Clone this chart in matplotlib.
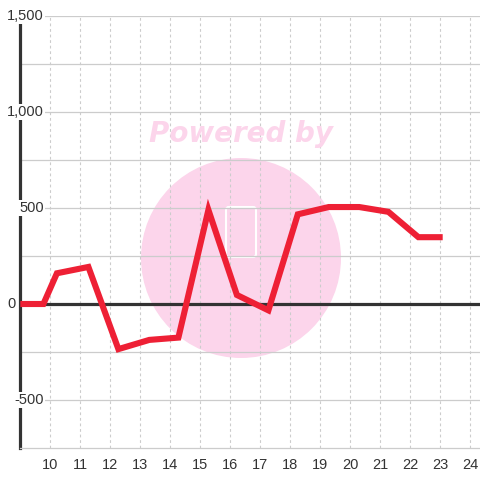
import matplotlib
matplotlib.use('Agg')
from matplotlib import pyplot as plt
from matplotlib.patches import Circle, FancyBboxPatch
from matplotlib.transforms import blended_transform_factory

plt.rcParams['font.family'] = ['Liberation Sans', 'DejaVu Sans']

# data
x_vals = [9, 9.77, 10.22, 11.27, 12.27, 13.3, 14.27, 15.27, 16.22,
          17.27, 18.25, 19.28, 20.3, 21.27, 22.27, 23.08]
y_vals = [0, 0, 160, 193, -235, -187, -175, 490, 47,
          -33, 467, 505, 505, 480, 348, 348]
x_ticks = list(range(10, 25))
y_ticks = [-500, 0, 500, 1000, 1500]
y_labels = ['-500', '0', '500', '1,000', '1,500']

fig = plt.figure(figsize=(4.8, 4.8), dpi=100)
ax = fig.add_axes([20.3 / 480, 1 - 448 / 480, 1 - 20.3 / 480, 432 / 480])
ax.set_xlim(9, 9 + (480 - 20.3) / 30)
ax.set_ylim(-750, 1500)

# watermark
ax.add_patch(Circle((241 / 480, 1 - 258 / 480), 100 / 480, transform=fig.transFigure,
                    facecolor='#fcd5eb', edgecolor='none', zorder=0.5))
ax.add_patch(FancyBboxPatch((226 / 480, 1 - 257 / 480), 30 / 480, 50 / 480,
                            boxstyle='round,pad=0,rounding_size=0.006',
                            transform=fig.transFigure, facecolor='none',
                            edgecolor='white', lw=1.5, zorder=0.6))
fig.text(241 / 480, 1 - 134 / 480, 'Powered by', color='#fcd5eb', fontsize=20,
         fontweight='bold', fontstyle='italic', ha='center', va='center',
         family=['DejaVu Sans'], zorder=0.5)

# grid
for v in range(-500, 1501, 250):
    ax.axhline(v, color='#cccccc', lw=0.9, zorder=1)
for v in x_ticks:
    ax.axvline(v, color='#cccccc', lw=0.8, ls=(0, (2.5, 2.5)), zorder=1)

ax.axhline(0, color='#333333', lw=2.3, zorder=2)
ax.plot([9, 9], [-750, 1460], color='#333333', lw=2.3, zorder=2, clip_on=False)

ax.plot(x_vals, y_vals, color='#ee2035', lw=4.4, solid_joinstyle='miter',
        solid_capstyle='butt', zorder=3)

for s in ['top', 'right', 'left']:
    ax.spines[s].set_visible(False)
ax.spines['bottom'].set_color('#cccccc')
ax.spines['bottom'].set_linewidth(0.9)

ax.set_yticks([])
ax.set_xticks(x_ticks)
ax.tick_params(axis='x', length=0, pad=7, labelsize=10.5, labelcolor='#333333')

tr = blended_transform_factory(fig.transFigure, ax.transData)
for v, lab in zip(y_ticks, y_labels):
    xp = 16 / 480 if v == 0 else 44 / 480
    ax.text(xp, v, lab, transform=tr, ha='right', va='center', fontsize=10.5,
            color='#333333', zorder=4, clip_on=False,
            bbox=dict(facecolor='white', edgecolor='none', pad=1) if v != 0 else None)

fig.savefig('out.png', dpi=100)
